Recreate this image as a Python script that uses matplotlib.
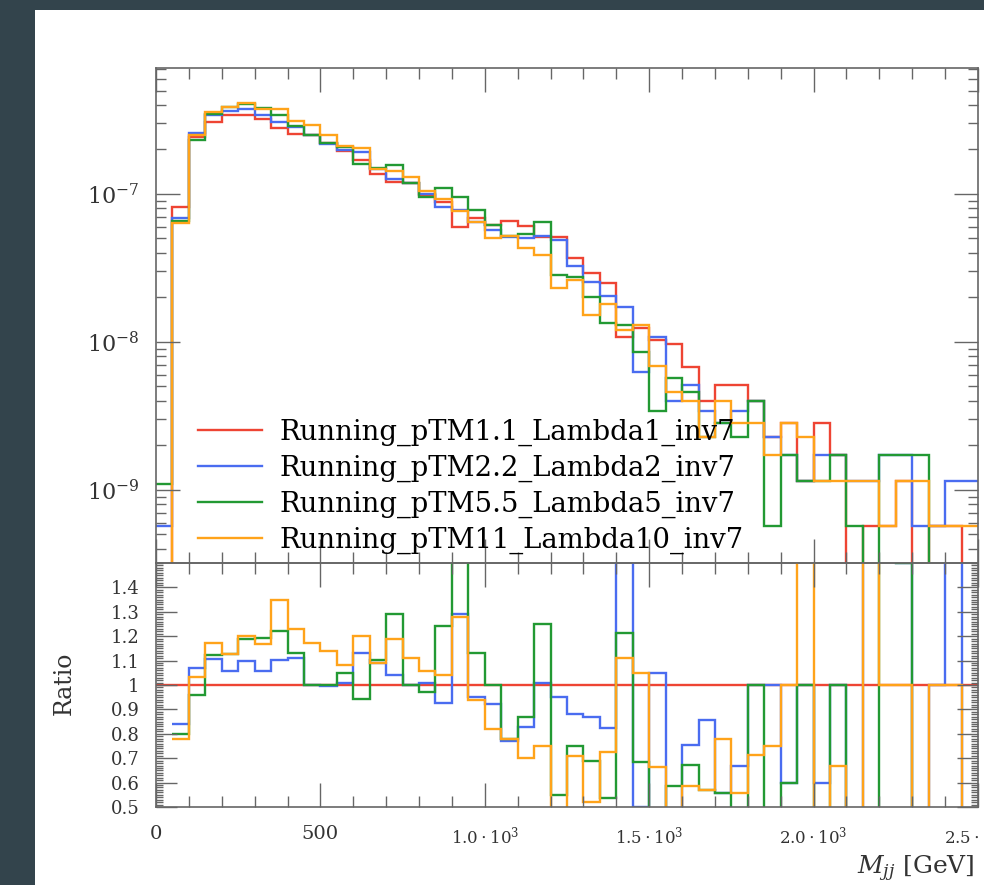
import numpy as np
import matplotlib
matplotlib.use("Agg")
import matplotlib.pyplot as plt
from matplotlib.patches import Rectangle
from matplotlib.ticker import MultipleLocator, FixedLocator, LogLocator, NullFormatter

plt.rcParams['font.family'] = ['DejaVu Serif']
plt.rcParams['mathtext.fontset'] = 'dejavuserif'

# Bin edges in GeV (50 GeV bins from 0 to 2500)
edges = np.arange(0, 2501, 50)

# Cross-section per bin, units of 1e-9
red = [0, 82.0, 241.5, 307.6, 342, 342, 320, 278, 254, 251,
       220, 196, 170, 136, 121, 118, 98.4, 88.7, 60.0, 68.5,
       61.8, 66.1, 61.1, 51.5, 51.5, 36.8, 29.1, 24.9, 10.8, 12.5,
       10.3, 9.7, 6.8, 3.99, 5.13, 5.13, 3.99, 2.28, 2.85, 1.14,
       2.85, 1.71, 0, 0.57, 0.57, 1.14, 0, 0.57, 0.57, 0]
blue = [0.57, 68.9, 258, 341, 362, 376, 339, 306, 282, 251,
        219, 198, 192, 148, 126, 118, 99.4, 82.0, 77.4, 65.1,
        56.9, 50.9, 50.7, 52.0, 48.9, 32.5, 25.3, 20.5, 17.1, 6.27,
        10.8, 3.99, 5.13, 3.42, 2.85, 3.42, 3.99, 2.28, 1.71, 1.14,
        1.71, 1.71, 1.14, 1.14, 1.71, 1.71, 0.57, 0.57, 1.14, 1.14]
green = [1.1, 65.6, 232, 345, 386, 407, 381, 339, 287, 251,
         220, 206, 160, 150, 156, 118, 95.4, 110, 95.0, 77.4,
         61.8, 51.6, 53.2, 64.4, 28.3, 27.6, 20.0, 13.4, 13.1, 8.55,
         3.42, 5.7, 4.56, 2.28, 2.85, 2.28, 3.99, 0.57, 1.71, 1.14,
         1.14, 1.71, 0.57, 0, 1.71, 1.71, 1.71, 0, 0, 0]
orange = [0, 64.0, 249, 360, 386, 410, 374, 375, 312, 294,
          251, 212, 204, 148, 144, 131, 104, 92.2, 76.8, 64.4,
          50.7, 51.6, 42.8, 38.6, 23.2, 26.1, 15.1, 18.1, 12.0, 13.1,
          6.84, 4.56, 3.99, 2.28, 3.99, 2.85, 2.85, 1.71, 2.85, 2.28,
          1.14, 1.14, 1.14, 1.14, 0.57, 1.14, 1.14, 0.57, 0.57, 0.57]

labels = ["Running_pTM1.1_Lambda1_inv7", "Running_pTM2.2_Lambda2_inv7",
          "Running_pTM5.5_Lambda5_inv7", "Running_pTM11_Lambda10_inv7"]
colors = ["#ee4433", "#4a6cf0", "#229933", "#ffa31a"]
series = [red, blue, green, orange]

scale = 1e-9
floor = 1e-13  # empty bins drop below the axis

W, H = 984, 885
fig = plt.figure(figsize=(W / 100, H / 100), dpi=100, facecolor="#33444c")
fig.patches.append(Rectangle((35 / W, 0), 1, 1 - 10 / H, transform=fig.transFigure,
                             facecolor="white", edgecolor="none", zorder=-10))

ax = fig.add_axes([156 / W, 1 - 563 / H, 822 / W, 495 / H])
axr = fig.add_axes([156 / W, 1 - 807 / H, 822 / W, 244 / H], sharex=ax)
for a in (ax, axr):
    a.set_zorder(2)
    a.patch.set_alpha(0)

ref = np.array(red, dtype=float)
first = np.argmax(ref > 0)  # ratio starts at the first filled reference bin
for i, (vals, col, lab) in enumerate(zip(series, colors, labels)):
    v = np.array(vals, dtype=float)
    ax.stairs(np.where(v > 0, v * scale, floor), edges, baseline=None,
              color=col, lw=1.7, label=lab)
    if i == 0:
        ratio = np.ones_like(ref)
    else:
        ratio = np.where(ref > 0, v / np.where(ref > 0, ref, 1), 0.0)
        ratio[:first] = np.nan
    axr.stairs(ratio, edges, baseline=None, color=col, lw=1.7)

ax.set_yscale("log")
ax.set_ylim(3.2e-10, 7.1e-7)
ax.set_xlim(0, 2500)
axr.set_ylim(0.5, 1.5)

tick_col = "#666666"
for a in (ax, axr):
    for s in a.spines.values():
        s.set_color(tick_col)
        s.set_linewidth(1.2)
    a.tick_params(which="both", direction="in", top=True, right=True, color=tick_col,
                  width=1.0, labelcolor="#333333")
    a.tick_params(which="major", length=17)
    a.tick_params(which="minor", length=8)

ax.xaxis.set_major_locator(MultipleLocator(500))
ax.xaxis.set_minor_locator(MultipleLocator(100))
ax.yaxis.set_major_locator(LogLocator(base=10))
ax.yaxis.set_minor_locator(LogLocator(base=10, subs=np.arange(2, 10)))
ax.yaxis.set_minor_formatter(NullFormatter())
ax.tick_params(axis="x", labelbottom=False)
ax.tick_params(axis="y", which="minor", length=7)
ax.tick_params(axis="y", labelsize=16, pad=12)

axr.yaxis.set_major_locator(FixedLocator([0.5, 0.6, 0.7, 0.8, 0.9, 1.0, 1.1, 1.2, 1.3, 1.4]))
axr.yaxis.set_minor_locator(MultipleLocator(0.01))
axr.set_yticklabels(["0.5", "0.6", "0.7", "0.8", "0.9", "1", "1.1", "1.2", "1.3", "1.4"])
axr.tick_params(axis="y", which="major", length=15, labelsize=13, pad=12)
axr.tick_params(axis="y", which="minor", length=5)

xt = [0, 500, 1000, 1500, 2000, 2500]
axr.set_xticks(xt)
axr.set_xticklabels(["0", "500", r"$1.0\cdot10^{3}$", r"$1.5\cdot10^{3}$",
                     r"$2.0\cdot10^{3}$", r"$2.5\cdot10^{3}$"])
axr.tick_params(axis="x", labelsize=14, pad=13)
for t in axr.get_xticklabels()[2:]:
    t.set_fontsize(12)

ax.legend(loc="lower left", bbox_to_anchor=(0.051, 0.018), frameon=False, fontsize=19.8,
          handlelength=2.33, handletextpad=0.65, labelspacing=0.32, borderaxespad=0,
          borderpad=0)

fig.text(64 / W, 1 - 683 / H, "Ratio", rotation=90, ha="center", va="center",
         fontsize=17, color="#333333")
fig.text(975 / W, 1 - 869 / H, r"$M_{jj}$ [GeV]", ha="right", va="center",
         fontsize=18, color="#333333")

fig.savefig("out.png", dpi=100, facecolor=fig.get_facecolor())
